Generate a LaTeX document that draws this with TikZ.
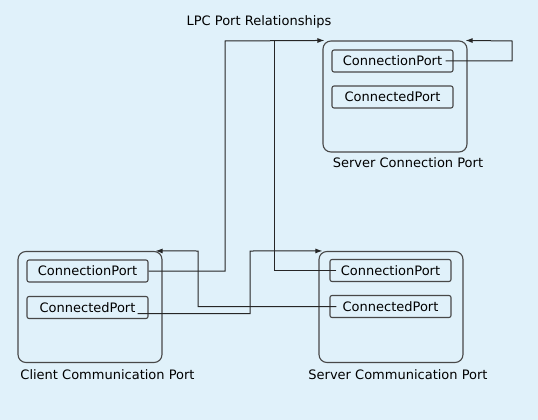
\documentclass[tikz,border=0pt]{standalone}
\usepackage{fontspec}
\setmainfont{DejaVu Sans}
\usetikzlibrary{arrows.meta}
\definecolor{sky}{RGB}{224,241,250}
\definecolor{edge}{RGB}{72,72,72}
\begin{document}
\begin{tikzpicture}[x=1pt,y=-1pt,
    font=\fontsize{13}{15}\selectfont,
    portbox/.style={draw=edge,line width=1.1pt,rounded corners=8pt,minimum width=144pt,minimum height=111pt,inner sep=0pt},
    slot/.style={draw=edge,line width=1.1pt,rounded corners=2pt,minimum width=121pt,minimum height=22pt,inner sep=0pt},
    wire/.style={draw=black!85,line width=1pt},
    flow/.style={wire,-{Latex[length=7pt,width=5pt]}}]
  \fill[sky] (0,0) rectangle (538,420);
  \useasboundingbox (0,0) rectangle (538,420);
  \node (title) at (259,22) {LPC Port Relationships};
  \node[portbox] (scBox) at (395,96.5) {};
  \node[slot] (scCon) at (392.5,61) {ConnectionPort};
  \node[slot] (scCtd) at (392.5,97) {ConnectedPort};
  \node (scLbl) at (408,163) {Server Connection Port};
  \node[portbox] (ccBox) at (90,307) {};
  \node[slot] (ccCon) at (87.5,271) {ConnectionPort};
  \node[slot] (ccCtd) at (87.5,307.5) {ConnectedPort};
  \node (ccLbl) at (107.5,375) {Client Communication Port};
  \node[portbox] (smBox) at (391,307) {};
  \node[slot] (smCon) at (390.5,270.5) {ConnectionPort};
  \node[slot] (smCtd) at (390.5,306.5) {ConnectedPort};
  \node (smLbl) at (398,375) {Server Communication Port};
  \coordinate (jA) at (225,41);
  \coordinate (jB) at (274,41);
  \coordinate (jC) at (512,41);
  \coordinate (jD) at (198,251);
  \coordinate (jE) at (250,251);
  \begin{scope}
    \draw[flow] (ccCon.east) -| (jA) -- ([xshift=2pt]scBox.north west);
    \draw[wire] ([xshift=7pt]smCon.west) -| (jB);
    \draw[flow] ([xshift=-8pt]scCon.east) -| (jC) -- ([xshift=-2pt]scBox.north east);
    \draw[flow] ([xshift=7pt]smCtd.west) -| (jD) -- ([xshift=-7pt]ccBox.north east);
    \draw[flow] ([xshift=-11pt,yshift=-6pt]ccCtd.east) -| (jE) -- ([xshift=4pt]smBox.north west);
  \end{scope}
\end{tikzpicture}
\end{document}
